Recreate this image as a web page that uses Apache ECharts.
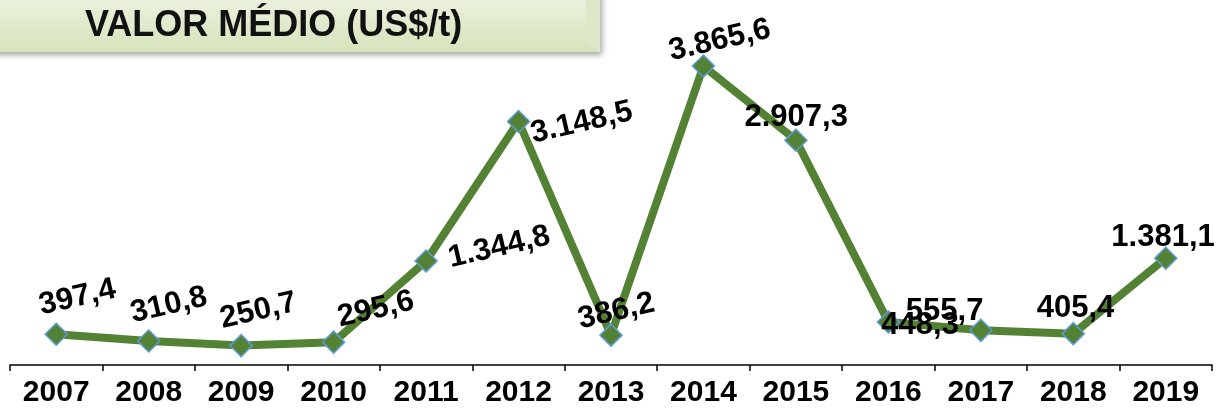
<!DOCTYPE html>
<html>
<head>
<meta charset="utf-8">
<script src="https://cdn.jsdelivr.net/npm/echarts@6/dist/echarts.min.js"></script>
<style>
  html, body { margin: 0; padding: 0; background: #fff; }
  #chart { width: 1217px; height: 408px; }
</style>
</head>
<body>
<div id="chart"></div>
<script>
// dados
var anos = ['2007', '2008', '2009', '2010', '2011', '2012', '2013', '2014', '2015', '2016', '2017', '2018', '2019'];
var valorMedio = [397.4, 310.8, 250.7, 295.6, 1344.8, 3148.5, 386.2, 3865.6, 2907.3, 555.7, 448.3, 405.4, 1381.1];

// posicao dos rotulos (deslocamento em px do centro do marcador) e rotacao
var rotuloDesloc = [[22, -36], [21, -35], [18, -34], [43, -32], [74, -13], [64, 2], [6, -23],
                    [17, -25], [1, -22], [57, -10], [-60, -4], [3, -24], [-2, -20]];
var rotuloGiro = [13, 13, 13, 13, 13, 13, 13, 13, 0, 0, 0, 0, 0];

var tamMarcador = 22;

// formato pt-BR: 3.148,5
function fmt(v) {
    var p = v.toFixed(1).split('.');
    return p[0].replace(/\B(?=(\d{3})+(?!\d))/g, '.') + ',' + p[1];
}

var chart = echarts.init(document.getElementById('chart'));

var pontos = valorMedio.map(function (v, i) {
    return {
        value: v,
        label: {
            position: [tamMarcador / 2 + rotuloDesloc[i][0], tamMarcador / 2 + rotuloDesloc[i][1]],
            rotate: rotuloGiro[i]
        }
    };
});

var option = {
    animation: false,
    grid: { left: 10, right: 5, top: 17, bottom: 41 },
    graphic: [{
        type: 'rect',
        shape: { x: -10, y: -10, width: 610, height: 62 },
        style: {
            fill: new echarts.graphic.LinearGradient(0, 0, 0, 1, [
                { offset: 0, color: '#eef3e2' },
                { offset: 1, color: '#d6e3bc' }
            ]),
            shadowBlur: 6,
            shadowOffsetY: 3,
            shadowOffsetX: 2,
            shadowColor: 'rgba(0,0,0,0.35)'
        },
        z: 10
    }, {
        type: 'polygon',
        shape: { points: [[586, 0], [600, 0], [600, 52], [586, 42]] },
        style: { fill: '#dde8c8' },
        z: 11
    }, {
        type: 'text',
        left: 85,
        top: 8,
        style: {
            text: 'VALOR MÉDIO (US$/t)',
            font: 'bold 36px "Liberation Sans", Arial, sans-serif',
            fill: '#111'
        },
        z: 12
    }],
    xAxis: {
        type: 'category',
        data: anos,
        boundaryGap: true,
        axisLine: { lineStyle: { color: '#000', width: 1.5 } },
        axisTick: { show: true, length: 6, lineStyle: { color: '#000', width: 1.5 } },
        axisLabel: {
            margin: 13,
            color: '#000',
            fontFamily: 'Liberation Sans',
            fontWeight: 'bold',
            fontSize: 30
        }
    },
    yAxis: {
        type: 'value',
        min: 0,
        max: 4500,
        show: false,
        splitLine: { show: false }
    },
    series: [{
        type: 'line',
        data: pontos,
        symbol: 'diamond',
        symbolSize: tamMarcador,
        lineStyle: { color: '#548235', width: 8 },
        itemStyle: { color: '#548235', borderColor: '#5b9bd5', borderWidth: 1.5 },
        label: {
            show: true,
            align: 'center',
            verticalAlign: 'middle',
            formatter: function (p) { return fmt(p.value); },
            color: '#000',
            fontFamily: 'Liberation Sans',
            fontWeight: 'bold',
            fontSize: 31
        },
        labelLayout: { hideOverlap: false },
        z: 3
    }]
};

chart.setOption(option);
</script>
</body>
</html>
